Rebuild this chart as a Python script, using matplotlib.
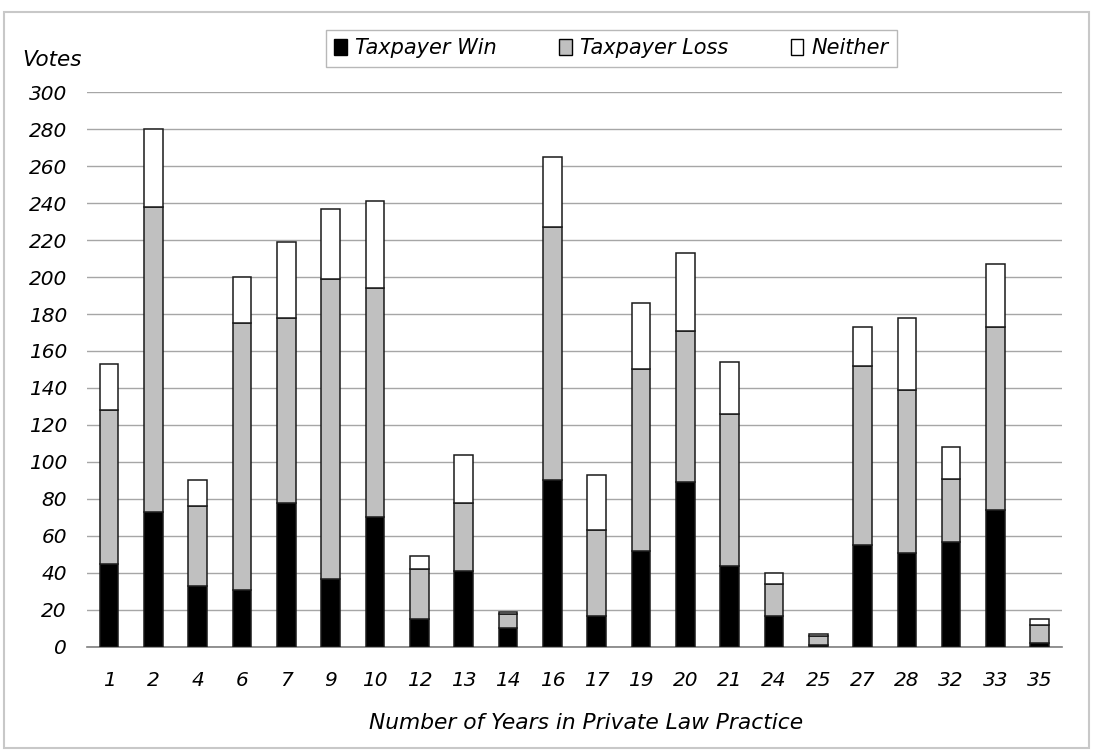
import matplotlib
matplotlib.use("Agg")
import matplotlib.pyplot as plt
from matplotlib.patches import Rectangle, Patch
import numpy as np

# Years of private law practice (categories) and vote counts per outcome
years = ["1", "2", "4", "6", "7", "9", "10", "12", "13", "14", "16", "17",
         "19", "20", "21", "24", "25", "27", "28", "32", "33", "35"]
taxpayer_win = [45, 73, 33, 31, 78, 37, 70, 15, 41, 10, 90, 17,
                52, 89, 44, 17, 1, 55, 51, 57, 74, 2]
taxpayer_loss = [83, 165, 43, 144, 100, 162, 124, 27, 37, 8, 137, 46,
                 98, 82, 82, 17, 5, 97, 88, 34, 99, 10]
neither = [25, 42, 14, 25, 41, 38, 47, 7, 26, 1, 38, 30,
           36, 42, 28, 6, 1, 21, 39, 17, 34, 3]
y_ticks = list(range(0, 301, 20))

plt.rcParams["font.family"] = ["DejaVu Sans"]

fig = plt.figure(figsize=(10.93, 7.53), dpi=100)
ax = fig.add_axes([0.0796, 0.1408, 0.892, 0.737])

x = np.arange(len(years))
w = 0.42
win = np.array(taxpayer_win)
loss = np.array(taxpayer_loss)
nei = np.array(neither)

edge = dict(edgecolor="#1a1a1a", linewidth=1.1)
ax.bar(x, win, w, color="black", zorder=3, **edge)
ax.bar(x, loss, w, bottom=win, color="#C0C0C0", zorder=3, **edge)
ax.bar(x, nei, w, bottom=win + loss, color="white", zorder=3, **edge)

ax.set_xlim(-0.5, len(years) - 0.5)
ax.set_ylim(0, 300)
ax.set_yticks(y_ticks)
ax.set_xticks(x)
ax.set_xticklabels(years)
ax.yaxis.grid(True, color="#A6A6A6", linewidth=1.0, zorder=0)
ax.set_axisbelow(True)
for s in ("left", "right", "top"):
    ax.spines[s].set_visible(False)
ax.spines["bottom"].set_color("#7f7f7f")
ax.spines["bottom"].set_linewidth(1.2)
ax.tick_params(axis="both", length=0, labelsize=14.5)
ax.tick_params(axis="x", pad=17.5)
ax.tick_params(axis="y", pad=14.5)
for lbl in ax.get_xticklabels() + ax.get_yticklabels():
    lbl.set_fontstyle("italic")

# Axis titles
fig.text(586 / 1093, 1 - 729 / 753, "Number of Years in Private Law Practice",
         fontsize=15.7, fontstyle="italic", ha="center", va="baseline")
fig.text(22 / 1093, 1 - 60 / 753, "Votes", fontsize=15.5, fontstyle="italic",
         ha="left", va="center")

handles = [Patch(facecolor="black", edgecolor="black", label="Taxpayer Win"),
           Patch(facecolor="#C0C0C0", edgecolor="black", label="Taxpayer Loss"),
           Patch(facecolor="white", edgecolor="black", label="Neither")]
leg = fig.legend(handles=handles, loc="center",
                 bbox_to_anchor=(611.5 / 1093, 1 - 48.5 / 753), ncol=3,
                 frameon=True, fancybox=False, fontsize=15,
                 handlelength=0.6, handleheight=0.8, handletextpad=0.4,
                 columnspacing=3.0, borderpad=0.4, borderaxespad=0)
leg.get_frame().set_edgecolor("#A6A6A6")
leg.get_frame().set_linewidth(1.0)
for t in leg.get_texts():
    t.set_fontstyle("italic")

# Outer chart border
fig.patches.append(Rectangle((4 / 1093, 1 - 748 / 753), 1085 / 1093, 736 / 753,
                             transform=fig.transFigure, fill=False,
                             edgecolor="#C8C8C8", linewidth=1.5))

fig.savefig("out.png", dpi=100)
